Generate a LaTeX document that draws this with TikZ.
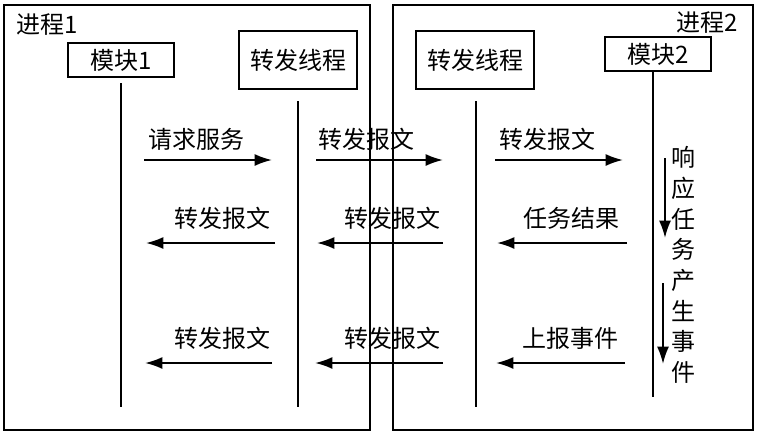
\documentclass[tikz,border=0pt]{standalone}
\usepackage{fontspec}
\setmainfont{Noto Sans CJK SC}
\usetikzlibrary{arrows.meta}

\tikzset{
  boite/.style={draw, line width=1.5pt, inner sep=0pt},
  vie/.style={line width=1.5pt},
  fleche/.style={line width=1.5pt, -{Latex[length=13pt,width=9pt]}},
  etiq/.style={inner sep=0pt, font=\fontsize{18}{20}\selectfont}
}

\begin{document}
\begin{tikzpicture}[x=0.75pt, y=-0.75pt]

  % Cadre de l'image (en pixels)
  \useasboundingbox (0,0) rectangle (761,436);

  % Niveaux des messages
  \def\ya{160}  % requete
  \def\yb{243}  % resultat
  \def\yc{363}  % evenement

  % ==============================================
  % 1. LES DEUX PROCESSUS
  % ==============================================
  \draw[line width=1.5pt] (4,5) rectangle (370,430);
  \draw[line width=1.5pt] (393,5) rectangle (753,430);
  \node[etiq] (proc1) at (47,25) {进程1};
  \node[etiq] (proc2) at (707,23) {进程2};

  % ==============================================
  % 2. LES BOITES ET LEURS LIGNES DE VIE
  % ==============================================
  \node[boite, minimum width=79.5pt, minimum height=25.5pt, etiq] (mod1) at (121,60) {模块1};
  \node[boite, minimum width=89pt, minimum height=44pt, etiq] (relais1) at (298,60) {转发线程};
  \node[boite, minimum width=89pt, minimum height=44pt, etiq] (relais2) at (475,60) {转发线程};
  \node[boite, minimum width=80pt, minimum height=25.5pt, etiq] (mod2) at (658,54) {模块2};

  \coordinate (fin1) at (121,407);
  \coordinate (fin2) at (298,407);
  \coordinate (fin3) at (476,407);
  \coordinate (fin4) at (653,397);

  \draw[vie] ([yshift=-4pt]mod1.south -| fin1) -- (fin1);
  \draw[vie] ([yshift=-8pt]relais1.south -| fin2) -- (fin2);
  \draw[vie] ([yshift=-8pt]relais2.south -| fin3) -- (fin3);
  \draw[vie] (mod2.south -| fin4) -- (fin4);

  % ==============================================
  % 3. LES MESSAGES ENTRE LIGNES DE VIE
  % ==============================================
  % --- Aller : vers la droite ---
  \foreach \xa/\xb/\xt/\txt [count=\i] in {144/272/196/请求服务, 316/443/366/转发报文, 495/623/547/转发报文} {
    \coordinate (a\i) at (\xa,\ya);
    \coordinate (b\i) at (\xb,\ya);
    \node[etiq] (ta\i) at (\xt,139) {\txt};
    \draw[fleche] (a\i) -- (b\i);
  }

  % --- Retour : vers la gauche ---
  \foreach \xa/\xb/\xt/\txt [count=\i] in {275/146/222/转发报文, 443/317/392/转发报文, 627/497/571/任务结果} {
    \coordinate (c\i) at (\xa,\yb);
    \coordinate (d\i) at (\xb,\yb);
    \node[etiq] (tb\i) at (\xt,218) {\txt};
    \draw[fleche] (c\i) -- (d\i);
  }

  \foreach \xa/\xb/\xt/\txt [count=\i] in {272/145/222/转发报文, 443/315/392/转发报文, 625/496/570/上报事件} {
    \coordinate (e\i) at (\xa,\yc);
    \coordinate (f\i) at (\xb,\yc);
    \node[etiq] (tc\i) at (\xt,338) {\txt};
    \draw[fleche] (e\i) -- (f\i);
  }

  % ==============================================
  % 4. TRAITEMENT DANS LE MODULE 2
  % ==============================================
  \node[etiq, align=center, font=\fontsize{18}{23}\selectfont] (vert) at (683,265)
    {响\\应\\任\\务\\产\\生\\事\\件};

  \coordinate (g1) at (665,158);
  \coordinate (h1) at (665,238);
  \coordinate (g2) at (663,283);
  \coordinate (h2) at (663,364);
  \draw[fleche] (g1) -- (h1);
  \draw[fleche] (g2) -- (h2);

\end{tikzpicture}
\end{document}
